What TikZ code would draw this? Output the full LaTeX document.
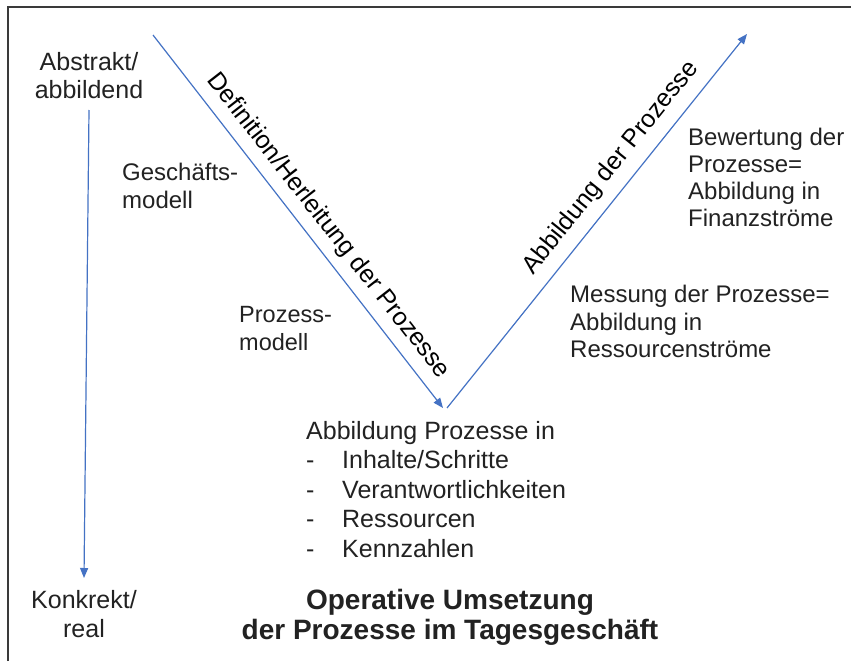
\documentclass[tikz,border=0pt]{standalone}
\usepackage{fontspec}
\setmainfont{Liberation Sans}
\usetikzlibrary{arrows.meta}
\definecolor{vblue}{HTML}{4472C4}
\definecolor{ink}{HTML}{222222}
\definecolor{framegray}{HTML}{3A3A3A}

\begin{document}
\begin{tikzpicture}[x=1pt,y=-1pt,
  flow/.style={draw=vblue, line width=1.2pt, -{Triangle[length=10pt,width=8pt]}},
  txt/.style={text=ink, inner sep=0pt, font=\fontsize{25}{28}\selectfont},
  sidetxt/.style={text=ink, inner sep=0pt, align=left, anchor=north west},
  boldtxt/.style={text=ink, inner sep=0pt, font=\fontsize{28}{30}\selectfont\bfseries},
  slopetxt/.style={text=black, inner sep=0pt, font=\fontsize{25}{28}\selectfont, anchor=base}
]
\useasboundingbox (0,0) rectangle (851,661);
\fill[white] (0,0) rectangle (851,661);

% frame lines (top and left)
\draw[framegray, line width=2pt] (8,661) -- (8,7) -- (851,7);

% corner points of the V
\coordinate (vtopleft) at (153,35);
\coordinate (vbottomin) at (443,408);
\coordinate (vbottomout) at (447,408);
\coordinate (vtopright) at (747,34);

% vertical scale on the left
\node[txt, align=center, anchor=north] (abstrakt) at (89,52) {Abstrakt/\\abbildend};
\node[txt, align=center, anchor=north] (konkret) at (84,590) {Konkrekt/\\[1pt]real};
\coordinate (scaletop) at (89,110);
\coordinate (scalebottom) at (84,578);
\draw[flow] (scaletop) -- (scalebottom);

% the V
\draw[flow] (vtopleft) -- (vbottomin);
\draw[flow] (vbottomout) -- (vtopright);

% labels along the V
\node[slopetxt, rotate=-52.1] (deflabel) at (323,230) {Definition/Herleitung der Prozesse};
\node[slopetxt, rotate=51.3] (abblabel) at (616,172) {Abbildung der Prozesse};

% model levels
\node[sidetxt, font=\fontsize{24}{28}\selectfont] (gm) at (122,163) {Geschäfts-\\modell};
\node[sidetxt, font=\fontsize{23.5}{28.5}\selectfont] (pm) at (239,306) {Prozess-\\modell};

% right side
\node[sidetxt, font=\fontsize{24}{27}\selectfont] (bew) at (688,128)
  {Bewertung der\\Prozesse=\\Abbildung in\\Finanzströme};
\node[sidetxt, font=\fontsize{24}{27.5}\selectfont] (mess) at (570,285)
  {Messung der Prozesse=\\Abbildung in\\Ressourcenströme};

% bottom list
\node[sidetxt, font=\fontsize{25}{29.5}\selectfont] (liste) at (306,421)
  {Abbildung Prozesse in\\
   \makebox[36pt][l]{-}Inhalte/Schritte\\
   \makebox[36pt][l]{-}Verantwortlichkeiten\\
   \makebox[36pt][l]{-}Ressourcen\\
   \makebox[36pt][l]{-}Kennzahlen};

% operative level
\node[boldtxt, align=center, anchor=north] (oper) at (450,589)
  {Operative Umsetzung\\der Prozesse im Tagesgeschäft};
\end{tikzpicture}
\end{document}
